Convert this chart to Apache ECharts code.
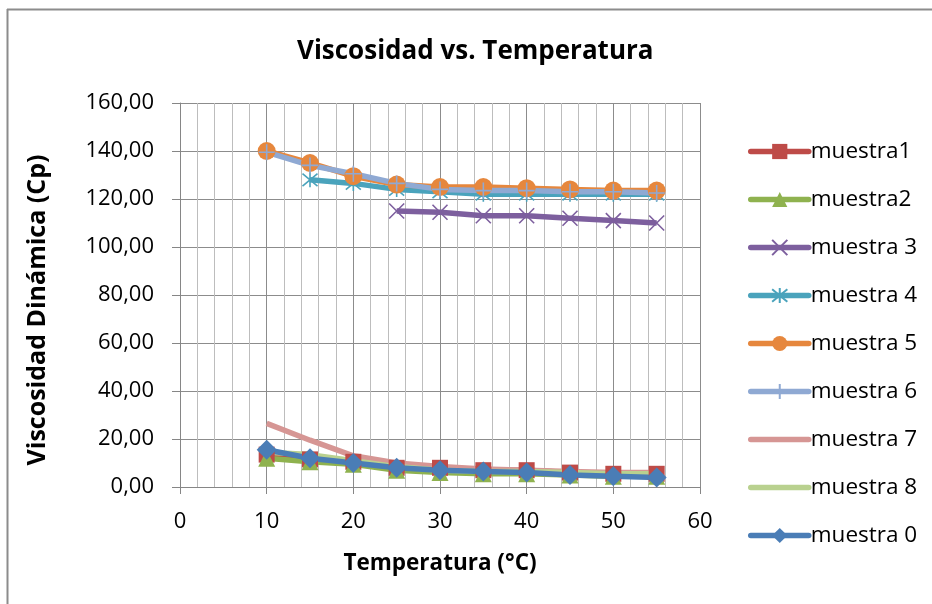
<!DOCTYPE html>
<html><head><meta charset="utf-8">
<script src="https://cdn.jsdelivr.net/npm/echarts@6/dist/echarts.min.js"></script>
<style>html,body{margin:0;padding:0;background:#fff}#c{width:932px;height:604px}</style>
</head><body><div id="c"></div>
<script>
const temps = [10, 15, 20, 25, 30, 35, 40, 45, 50, 55];
const seriesNames = ['muestra1','muestra2','muestra 3','muestra 4','muestra 5','muestra 6','muestra 7','muestra 8','muestra 0'];
const muestra1 = [13.5, 11.5, 10.5, 8.0, 8.0, 7.0, 7.0, 6.0, 5.5, 5.5];
const muestra2 = [12.0, 10.5, 9.5, 7.0, 6.0, 5.5, 5.5, 5.0, 4.5, 4.5];
const muestra3 = [null, null, null, 115.0, 114.5, 113.0, 113.0, 112.0, 111.0, 110.0];
const muestra4 = [null, 128.0, 126.5, 124.0, 123.0, 122.0, 122.0, 122.0, 122.0, 122.0];
const muestra5 = [140.0, 135.0, 129.5, 126.0, 125.0, 125.0, 124.5, 124.0, 123.5, 123.5];
const muestra6 = [139.5, 134.0, 130.5, 126.5, 124.0, 123.5, 123.5, 123.0, 123.0, 122.5];
const muestra7 = [26.5, 19.5, 13.0, 10.0, 8.5, 7.5, 7.0, 6.5, 6.0, 6.0];
const muestra8 = [14.5, 13.5, 11.0, 8.5, 7.0, 6.5, 6.5, 6.0, 5.5, 5.5];
const muestra0 = [15.5, 12.0, 10.0, 8.0, 7.0, 6.5, 6.0, 5.0, 4.5, 4.0];
const xTicks = [0, 10, 20, 30, 40, 50, 60];
const yTicks = [0, 20, 40, 60, 80, 100, 120, 140, 160];

const allValues = [muestra1, muestra2, muestra3, muestra4, muestra5, muestra6, muestra7, muestra8, muestra0];
const colors = ['#BE4B48','#8FB24F','#7D5F9E','#4AA3BC','#E6873D','#8FA9D3','#D69694','#B9D18F','#4A7DB6'];
const XSYM = 'path://M0,0L10,10M10,0L0,10';
const ASTER = 'path://M0,0L10,10M10,0L0,10M5,-1L5,11';
const PLUS = 'path://M5,0L5,10M0,5L10,5';
const symbols = ['rect','triangle',XSYM,ASTER,'circle',PLUS,null,null,'diamond'];
const symSizes = [16,17,15,15,18,16,0,0,20];
const FONT = 'Open Sans';

const series = seriesNames.map((name, i) => {
  const none = symbols[i] === null;
  const stroked = !none && symbols[i].startsWith('path://');
  return {
    name, type: 'line',
    data: temps.map((t, k) => [t, allValues[i][k]]),
    symbol: none ? 'circle' : symbols[i], symbolSize: none ? 1 : symSizes[i], showSymbol: !none,
    connectNulls: false,
    color: colors[i],
    lineStyle: {width: 5.5, color: colors[i]},
    itemStyle: none ? {color: colors[i], borderWidth: 0, opacity: 0}
      : stroked ? {color: colors[i], borderColor: colors[i], borderWidth: 1.6}
      : {color: colors[i], borderWidth: 0},
    emphasis: {disabled: true},
    animation: false
  };
});

const legendData = seriesNames.map((n, i) => symbols[i] === null ? {name: n, itemStyle: {opacity: 0}} : {name: n});

const chart = echarts.init(document.getElementById('c'), null, {renderer: 'canvas'});
chart.setOption({
  animation: false,
  backgroundColor: '#fff',
  title: {text: 'Viscosidad vs. Temperatura', left: 297, top: 39, padding: 0,
    textStyle: {fontFamily: FONT, fontSize: 26, fontWeight: 'bold', color: '#000'}},
  graphic: [
    {type: 'line', shape: {x1: 7.5, y1: 9, x2: 7.5, y2: 604}, style: {stroke: '#8c8c8c', lineWidth: 2}, silent: true},
    {type: 'line', shape: {x1: 7, y1: 9.5, x2: 932, y2: 9.5}, style: {stroke: '#8c8c8c', lineWidth: 2}, silent: true}
  ],
  grid: {left: 180, right: 232, top: 103, bottom: 117, containLabel: false},
  legend: {orient: 'vertical', left: 748, top: 140, padding: 0, itemWidth: 58, itemHeight: 19, itemGap: 25,
    lineStyle: {width: 5.5, cap: 'round'},
    textStyle: {fontFamily: FONT, fontSize: 22.5, color: '#000', padding: [0,0,0,-3]},
    data: legendData},
  xAxis: {type: 'value', min: xTicks[0], max: xTicks[xTicks.length-1], interval: 10,
    name: 'Temperatura (°C)', nameLocation: 'middle', nameGap: 65,
    nameTextStyle: {fontFamily: FONT, fontSize: 22.5, fontWeight: 'bold', color: '#000'},
    axisLine: {lineStyle: {color: '#868686', width: 1}},
    axisTick: {show: true, length: 7, inside: false, lineStyle: {color: '#868686'}},
    axisLabel: {fontFamily: FONT, fontSize: 22, color: '#000', margin: 24},
    splitLine: {show: true, lineStyle: {color: '#8c8c8c', width: 1}},
    minorTick: {show: false, splitNumber: 5},
    minorSplitLine: {show: true, lineStyle: {color: '#bdbdbd', width: 1}}},
  yAxis: {type: 'value', min: yTicks[0], max: yTicks[yTicks.length-1], interval: 20,
    name: 'Viscosidad Dinámica (Cp)', nameLocation: 'middle', nameGap: 130, nameRotate: 90,
    nameTextStyle: {fontFamily: FONT, fontSize: 25, fontWeight: 'bold', color: '#000', padding: [0, 30, 0, 0]},
    axisLine: {show: true, lineStyle: {color: '#868686', width: 1}},
    axisTick: {show: true, length: 8, lineStyle: {color: '#868686'}},
    axisLabel: {fontFamily: FONT, fontSize: 22, color: '#000', margin: 26,
      formatter: v => v.toFixed(2).replace('.', ',')},
    splitLine: {show: true, lineStyle: {color: '#8c8c8c', width: 1}}},
  series
});
</script></body></html>
